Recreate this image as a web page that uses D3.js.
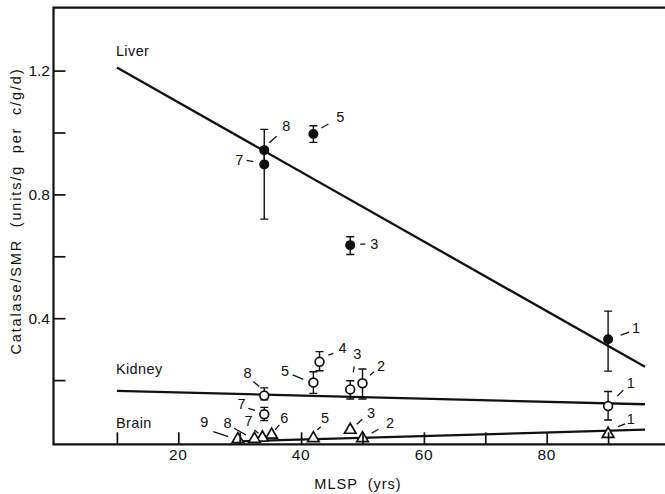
<!DOCTYPE html>
<html>
<head>
<meta charset="utf-8">
<script src="https://cdn.jsdelivr.net/npm/d3@7"></script>
<style>
  html, body { margin: 0; padding: 0; background: #fff; }
  svg { display: block; }
  text { font-family: "Liberation Sans", Arial, sans-serif; fill: #111; }
</style>
</head>
<body>
<svg id="chart" width="665" height="494"></svg>
<script>
// ---- data ----
const xTickValues = [10, 20, 30, 40, 50, 60, 70, 80, 90];
const xTickLabels = ["20", "40", "60", "80"];
const yTickValues = [0.2, 0.4, 0.6, 0.8, 1.0, 1.2];
const yTickLabels = ["0.4", "0.8", "1.2"];

// Liver (filled circles)
const liverIds   = ["1", "3", "5", "7", "8"];
const liverMLSP  = [90, 48, 42, 34, 34];
const liverValue = [0.332, 0.636, 0.995, 0.897, 0.943];
const liverLow   = [0.229, 0.606, 0.968, 0.720, 0.900];
const liverHigh  = [0.423, 0.663, 1.022, 0.940, 1.010];

// Kidney (open circles)
const kidneyIds   = ["1", "2", "3", "4", "5", "7", "8"];
const kidneyMLSP  = [90, 50, 48, 43, 42, 34, 34];
const kidneyValue = [0.116, 0.190, 0.170, 0.259, 0.192, 0.0895, 0.150];
const kidneyLow   = [0.071, 0.139, 0.139, 0.230, 0.157, 0.069, 0.136];
const kidneyHigh  = [0.163, 0.236, 0.198, 0.292, 0.227, 0.112, 0.175];

// Brain (open triangles)
const brainIds   = ["1", "2", "3", "5", "6", "7", "8", "9"];
const brainMLSP  = [90, 50, 48, 42, 35.2, 33.7, 32.4, 29.7];
const brainValue = [0.026, 0.012, 0.039, 0.012, 0.023, 0.014, 0.0097, 0.0087];

// Regression lines
const liverFitMLSP  = [10, 96];
const liverFit      = [1.21, 0.243];
const kidneyFitMLSP = [10, 96];
const kidneyFit     = [0.165, 0.122];
const brainFitMLSP  = [30, 96];
const brainFit      = [0.002, 0.040];

// ---- layout: label offsets [dx, dy, leader x1, y1, x2, y2] relative to each mark ----
const labelLayout = {
  "liver-1": [28, -11, 12.6, -4.2, 21, -7.2],
  "liver-3": [24, -1, 10, -1, 15, -1],
  "liver-5": [27, -17, 8, -6, 15, -10],
  "liver-7": [-25, -4, -17.6, -4, -11, -2.7],
  "liver-8": [22, -24, 5, -7.4, 12.4, -14],
  "kidney-1": [22.6, -22.8, 9.2, -10, 15.2, -16],
  "kidney-2": [18.5, -17, 7.5, -8, 11.5, -11.5],
  "kidney-3": [7, -35, 3, -17, 4, -23],
  "kidney-4": [23, -13.5, 8.8, -6.8, 13.8, -8.5],
  "kidney-5": [-28.4, -12, -20.7, -7.6, -10, -3.3],
  "kidney-7": [-22.6, -10.3, -16, -6, -9.3, -4],
  "kidney-8": [-16.6, -22.3, -11, -14, -5, -9],
  "brain-1": [22.6, -15, 10, -7.3, 17, -10],
  "brain-2": [27.5, -15.6, 9.2, -5, 15.8, -9],
  "brain-3": [20.8, -17.2, 6.5, -5.6, 12, -10.6],
  "brain-5": [11.6, -20, 4, -8.3, 7.3, -11.6],
  "brain-6": [12.7, -16.6, 3.4, -5, 7.7, -10],
  "brain-7": [-14, -16.7, -8, -7.7, -4, -4.4],
  "brain-8": [-27, -16.3, -20.4, -10.7, -8.4, -4],
  "brain-9": [-33.6, -17.6, -24.6, -7.6, -9.6, -2.6]
};

// ---- chart ----
const svg = d3.select("#chart");
const x = d3.scaleLinear().domain([0, 100]).range([55.5, 669.5]);
const y = d3.scaleLinear().domain([0, 1.4]).range([442, 8.7]);

const frameLeft = 53.5, frameTop = 7.7, frameBottom = 444.3, frameRight = 665;

const zip = (ids, xs, ys, lo, hi) => ids.map((id, i) => ({
  id, mlsp: xs[i], v: ys[i],
  lo: lo ? lo[i] : null, hi: hi ? hi[i] : null
}));
const liver = zip(liverIds, liverMLSP, liverValue, liverLow, liverHigh);
const kidney = zip(kidneyIds, kidneyMLSP, kidneyValue, kidneyLow, kidneyHigh);
const brain = zip(brainIds, brainMLSP, brainValue);

// frame: left axis, top border, bottom axis
svg.append("path")
  .attr("d", `M${frameRight},${frameTop}H${frameLeft}V${frameBottom}H${frameRight}`)
  .attr("fill", "none").attr("stroke", "#111").attr("stroke-width", 2.2);

// regression lines
const line = d3.line().x(d => x(d[0])).y(d => y(d[1]));
const fits = [
  [liverFitMLSP, liverFit],
  [kidneyFitMLSP, kidneyFit],
  [brainFitMLSP, brainFit]
];
svg.append("g").selectAll("path").data(fits).join("path")
  .attr("d", f => line(f[0].map((m, i) => [m, f[1][i]])))
  .attr("fill", "none").attr("stroke", "#111").attr("stroke-width", 2.3);

// error bars
function errorBars(data) {
  const g = svg.append("g").attr("stroke", "#111").attr("stroke-width", 1.4).attr("fill", "none");
  const cap = 4;
  g.selectAll("path").data(data).join("path")
    .attr("d", d => {
      const cx = x(d.mlsp), y1 = y(d.hi), y2 = y(d.lo);
      return `M${cx},${y1}V${y2}M${cx - cap},${y1}H${cx + cap}M${cx - cap},${y2}H${cx + cap}`;
    });
}
errorBars(liver);
errorBars(kidney);

// markers
svg.append("g").selectAll("circle").data(liver).join("circle")
  .attr("cx", d => x(d.mlsp)).attr("cy", d => y(d.v)).attr("r", 5)
  .attr("fill", "#111");
svg.append("g").selectAll("circle").data(kidney).join("circle")
  .attr("cx", d => x(d.mlsp)).attr("cy", d => y(d.v)).attr("r", 4.4)
  .attr("fill", "#fff").attr("stroke", "#111").attr("stroke-width", 1.7);
const tri = d3.symbol().type(d3.symbolTriangle).size(58);
svg.append("g").selectAll("path").data(brain).join("path")
  .attr("transform", d => `translate(${x(d.mlsp)},${y(d.v)})`)
  .attr("d", tri)
  .attr("fill", "#fff").attr("stroke", "#111").attr("stroke-width", 1.7);

// axis ticks (inward), drawn through the markers
const xAxis = d3.axisTop(x).tickValues(xTickValues).tickSize(12).tickSizeOuter(0).tickFormat("");
const gx = svg.append("g").attr("transform", `translate(0,${frameBottom})`).call(xAxis);
gx.select(".domain").remove();
gx.selectAll(".tick line").attr("stroke", "#111").attr("stroke-width", 1.7);

const yAxis = d3.axisRight(y).tickValues(yTickValues).tickSize(12).tickSizeOuter(0).tickFormat("");
const gy = svg.append("g").attr("transform", `translate(${frameLeft},0)`).call(yAxis);
gy.select(".domain").remove();
gy.selectAll(".tick line").attr("stroke", "#111").attr("stroke-width", 1.7);

// tick labels
svg.append("g").selectAll("text").data(xTickLabels).join("text")
  .attr("x", d => x(+d)).attr("y", 454)
  .attr("text-anchor", "middle").attr("dominant-baseline", "central")
  .attr("font-size", 15.5).attr("letter-spacing", 0.6)
  .text(d => d);
svg.append("g").selectAll("text").data(yTickLabels).join("text")
  .attr("x", 50).attr("y", d => y(+d))
  .attr("text-anchor", "end").attr("dominant-baseline", "central")
  .attr("font-size", 15.5)
  .text(d => d);

// axis titles
svg.append("text")
  .attr("x", 358).attr("y", 484)
  .attr("text-anchor", "middle").attr("dominant-baseline", "central")
  .attr("font-size", 14.5).attr("letter-spacing", 1)
  .attr("xml:space", "preserve")
  .text("MLSP  (yrs)");
svg.append("text")
  .attr("transform", "translate(16,212) rotate(-90)")
  .attr("text-anchor", "middle").attr("dominant-baseline", "central")
  .attr("font-size", 14.5)
  .attr("textLength", 285).attr("lengthAdjust", "spacing")
  .attr("xml:space", "preserve")
  .text("Catalase/SMR  (units/g  per  c/g/d)");

// series names
const seriesNames = [["Liver", 10, 1.263], ["Kidney", 10, 0.237], ["Brain", 10, 0.0625]];
svg.append("g").selectAll("text").data(seriesNames).join("text")
  .attr("x", d => x(d[1]) - 1).attr("y", d => y(d[2]))
  .attr("dominant-baseline", "central")
  .attr("font-size", 14.5).attr("letter-spacing", 0.4)
  .text(d => d[0]);

// point labels with leader lines
function pointLabels(data, key) {
  const g = svg.append("g");
  data.forEach(d => {
    const L = labelLayout[`${key}-${d.id}`];
    if (!L) return;
    const px = x(d.mlsp), py = y(d.v);
    g.append("line")
      .attr("x1", px + L[2]).attr("y1", py + L[3])
      .attr("x2", px + L[4]).attr("y2", py + L[5])
      .attr("stroke", "#111").attr("stroke-width", 1.3);
    g.append("text")
      .attr("x", px + L[0]).attr("y", py + L[1])
      .attr("text-anchor", "middle").attr("dominant-baseline", "central")
      .attr("font-size", 14.5)
      .text(d.id);
  });
}
pointLabels(liver, "liver");
pointLabels(kidney, "kidney");
pointLabels(brain, "brain");
</script>
</body>
</html>
